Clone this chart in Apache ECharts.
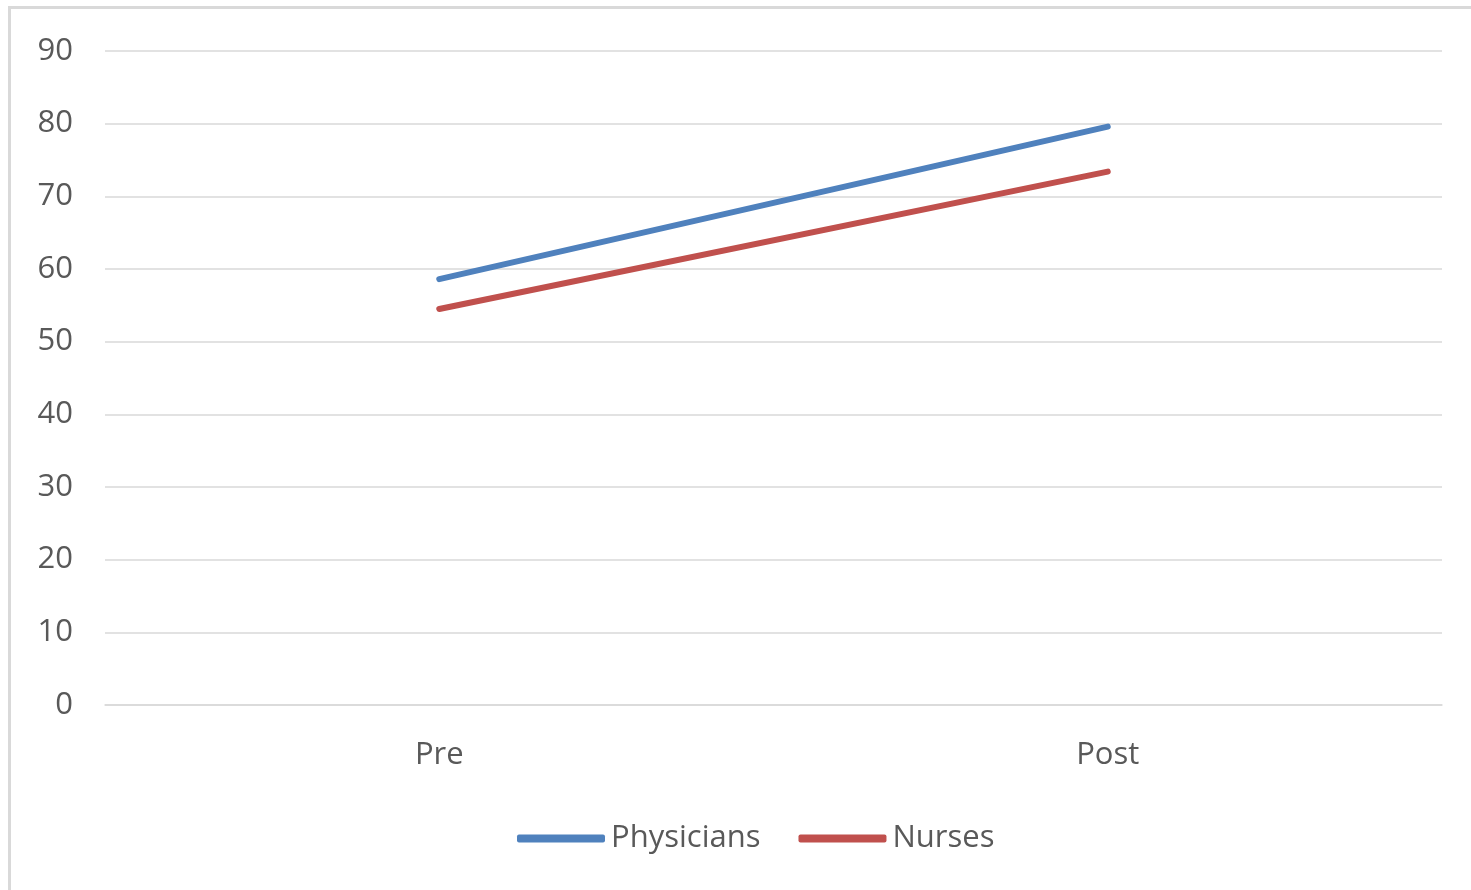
<!DOCTYPE html>
<html>
<head>
<meta charset="utf-8">
<script src="https://cdn.jsdelivr.net/npm/echarts@6/dist/echarts.min.js"></script>
<style>
html,body{margin:0;padding:0;background:#fff;overflow:hidden;}
#frame{position:absolute;left:8px;top:6px;width:1500px;height:1000px;border:3px solid #d9d9d9;box-sizing:border-box;}
#chart{position:absolute;left:0;top:0;width:1471px;height:890px;}
</style>
</head>
<body>
<div id="frame"></div>
<div id="chart"></div>
<script>
const categories = ['Pre', 'Post'];
const physicians = [58.6, 79.6];
const nurses = [54.5, 73.4];
const seriesNames = ['Physicians', 'Nurses'];
const yTicks = [0, 10, 20, 30, 40, 50, 60, 70, 80, 90];

const chart = echarts.init(document.getElementById('chart'), null, {renderer: 'canvas'});
const font = 'Open Sans';
chart.setOption({
  animation: false,
  backgroundColor: 'transparent',
  grid: {left: 105, right: 29, top: 51, bottom: 185, containLabel: false},
  legend: {
    left: 512, top: 818,
    itemWidth: 88, itemHeight: 8, itemGap: 38,
    icon: 'roundRect',
    textStyle: {fontFamily: font, fontSize: 31, color: '#595959', padding: [0, 0, 0, 1]},
    data: seriesNames
  },
  xAxis: {
    type: 'category',
    data: categories,
    boundaryGap: true,
    axisLine: {show: true, lineStyle: {color: '#d9d9d9', width: 1.5}},
    axisTick: {show: false},
    axisLabel: {fontFamily: font, fontSize: 31, color: '#595959', margin: 35}
  },
  yAxis: {
    type: 'value',
    min: yTicks[0], max: yTicks[yTicks.length - 1], interval: 10,
    axisLine: {show: false},
    axisTick: {show: false},
    axisLabel: {fontFamily: font, fontSize: 31, color: '#595959', margin: 32},
    splitLine: {lineStyle: {color: '#d9d9d9', width: 1.5}}
  },
  series: [
    {name: seriesNames[0], type: 'line', data: physicians, symbol: 'none',
     lineStyle: {width: 6, color: '#4f81bd', cap: 'round'}, itemStyle: {color: '#4f81bd'}},
    {name: seriesNames[1], type: 'line', data: nurses, symbol: 'none',
     lineStyle: {width: 6, color: '#c0504d', cap: 'round'}, itemStyle: {color: '#c0504d'}}
  ]
});
</script>
</body>
</html>
